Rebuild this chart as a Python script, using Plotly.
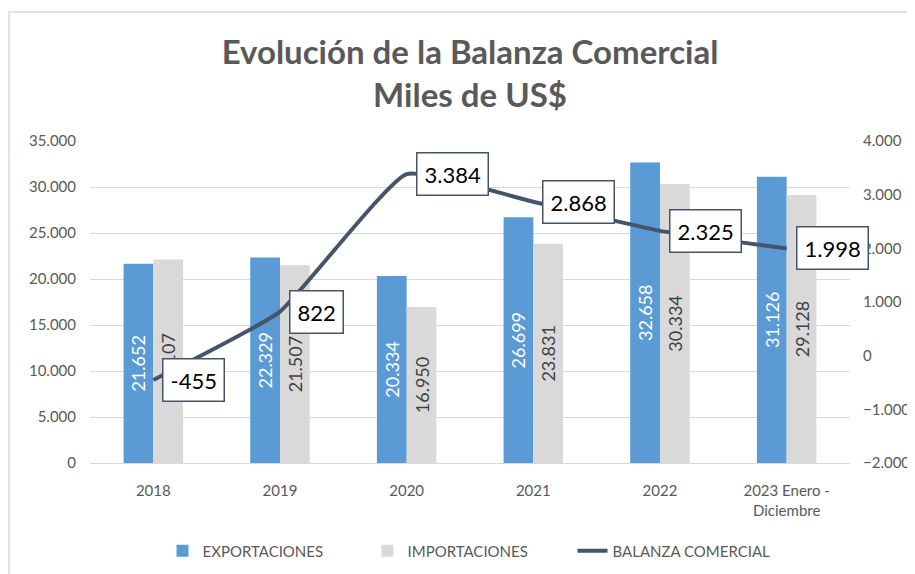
import plotly.graph_objects as go

categories = ["2018", "2019", "2020", "2021", "2022", "2023 Enero -<br>Diciembre"]
exportaciones = [21652, 22329, 20334, 26699, 32658, 31126]
importaciones = [22107, 21507, 16950, 23831, 30334, 29128]
balanza = [-455, 822, 3384, 2868, 2325, 1998]

FONT = "Lato, 'Open Sans', sans-serif"
GRAY = "#595959"

W, H = 907, 566          # page body has an 8px default margin
L, T, PW, PH = 82, 133, 760, 322

xpos = list(range(len(categories)))

fig = go.Figure()
fig.add_trace(go.Bar(
    name="EXPORTACIONES", x=xpos, y=exportaciones,
    marker=dict(color="#5B9BD5", line=dict(width=0)),
    texttemplate="%{y:,.0f}", textposition="inside", textangle=-90,
    insidetextanchor="middle", textfont=dict(color="white", size=18, family=FONT),
))
fig.add_trace(go.Bar(
    name="IMPORTACIONES", x=xpos, y=importaciones,
    marker=dict(color="#D9D9D9", line=dict(width=0)),
    texttemplate="%{y:,.0f}", textposition="inside", textangle=-90,
    insidetextanchor="middle", textfont=dict(color="#404040", size=18, family=FONT),
))
fig.add_trace(go.Scatter(
    name="BALANZA COMERCIAL", x=xpos, y=balanza, yaxis="y2",
    mode="lines", line=dict(color="#44546A", width=4, shape="spline", smoothing=0.4),
))

for xi, v in zip(xpos, balanza):
    fig.add_annotation(
        x=xi, y=v, xref="x", yref="y2", xanchor="left", yanchor="middle", xshift=9,
        text=f"{v:,}".replace(",", "."), showarrow=False,
        bgcolor="white", bordercolor="#44546A", borderwidth=1.5, borderpad=7,
        font=dict(size=22, color="black", family=FONT),
    )

# outer chart border
fig.add_shape(type="rect", xref="paper", yref="paper",
              x0=(1 - L) / PW, x1=(903 - L) / PW,
              y0=(T + PH - 570) / PH, y1=(T + PH - 4) / PH,
              line=dict(color="#D9D9D9", width=1.5), layer="below")

fig.update_layout(
    width=W, height=H,
    margin=dict(l=L, r=W - L - PW, t=T, b=H - T - PH, autoexpand=False),
    paper_bgcolor="white", plot_bgcolor="white",
    separators=",.",
    barmode="group", bargap=0.53, bargroupgap=0,
    font=dict(family=FONT, color=GRAY, size=15),
    title=dict(text="<b>Evolución de la Balanza Comercial<br>Miles de US$</b>",
               x=0.5, xref="paper", xanchor="center",
               y=1 - 56 / H, yref="container", yanchor="middle",
               font=dict(size=33, color=GRAY, family=FONT)),
    xaxis=dict(range=[-0.5, len(categories) - 0.5], tickvals=xpos, ticktext=categories,
               showgrid=False, showline=True, linecolor="#D9D9D9", zeroline=False,
               tickfont=dict(size=15, color=GRAY), ticks="", ticklabelstandoff=14,
               automargin=False),
    yaxis=dict(range=[0, 35000], dtick=5000, tickformat=",d",
               showgrid=True, gridcolor="#D9D9D9", gridwidth=1,
               zeroline=False, tickfont=dict(size=15, color=GRAY), ticklabelstandoff=13,
               automargin=False),
    yaxis2=dict(range=[-2000, 4000], dtick=1000, tickformat=",d",
                overlaying="y", side="right", showgrid=False, zeroline=False,
                tickfont=dict(size=15, color=GRAY), ticklabelstandoff=12,
                automargin=False),
    legend=dict(orientation="h", x=0.5, xanchor="center", y=(T + PH - 543) / PH,
                yanchor="middle", font=dict(size=15, color=GRAY), traceorder="normal",
                entrywidth=160, entrywidthmode="pixels"),
    showlegend=True,
)

fig.write_html("out.html")
